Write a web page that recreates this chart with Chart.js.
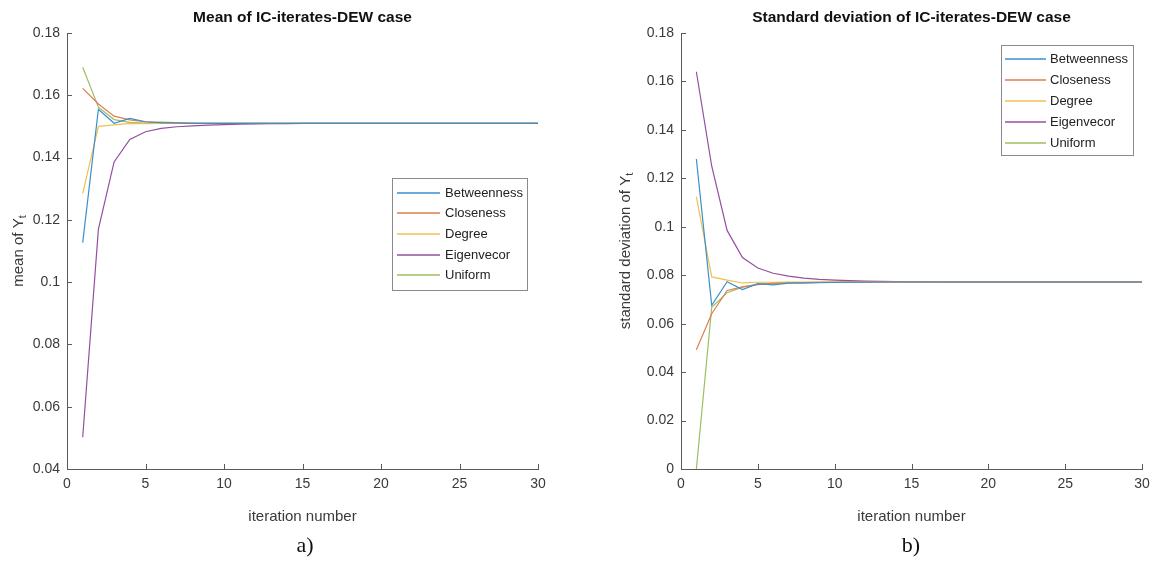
<!DOCTYPE html>
<html>
<head>
<meta charset="utf-8">
<script src="https://cdn.jsdelivr.net/npm/chart.js@4.4.1/dist/chart.umd.min.js"></script>
<style>
    body { margin: 0; background: #fff; }
    .figure { position: relative; width: 1161px; height: 562px; background: #fff; overflow: hidden; }
    .panel { position: absolute; top: 0; height: 562px; }
    .sublabel { position: absolute; top: 532px; font-family: 'Liberation Serif', 'Times New Roman', serif; font-size: 22px; color: #111; transform: translateX(-50%); }
</style>
</head>
<body>
<div class="figure">
    <div class="panel" style="left:0; width:580px;"><canvas id="meanChart" width="580" height="562"></canvas></div>
    <div class="panel" style="left:580px; width:581px;"><canvas id="stdChart" width="581" height="562"></canvas></div>
    <div class="sublabel" style="left:305px;">a)</div>
    <div class="sublabel" style="left:911px;">b)</div>
</div>
<script>
const iterations = [1, 2, 3, 4, 5, 6, 7, 8, 9, 10, 11, 12, 13, 14, 15, 16, 17, 18, 19, 20, 21, 22, 23, 24, 25, 26, 27, 28, 29, 30];
const seriesNames = ['Betweenness', 'Closeness', 'Degree', 'Eigenvecor', 'Uniform'];
const seriesColors = ['#3b8fcb', '#e07c52', '#f0c04e', '#944fa0', '#9cbf62'];

// mean of Y_t per iteration
const meanBetweenness = [0.1127, 0.1555, 0.1510, 0.1526, 0.1515, 0.1512, 0.1511, 0.1510, 0.1510, 0.1510, 0.1510, 0.1510, 0.1510, 0.1510, 0.1510, 0.1510, 0.1510, 0.1510, 0.1510, 0.1510, 0.1510, 0.1510, 0.1510, 0.1510, 0.1510, 0.1510, 0.1510, 0.1510, 0.1510, 0.1510];
const meanCloseness = [0.1622, 0.1572, 0.1533, 0.1521, 0.1515, 0.1512, 0.1511, 0.1510, 0.1510, 0.1510, 0.1510, 0.1510, 0.1510, 0.1510, 0.1510, 0.1510, 0.1510, 0.1510, 0.1510, 0.1510, 0.1510, 0.1510, 0.1510, 0.1510, 0.1510, 0.1510, 0.1510, 0.1510, 0.1510, 0.1510];
const meanDegree = [0.1285, 0.1500, 0.1505, 0.1510, 0.1509, 0.1510, 0.1510, 0.1510, 0.1510, 0.1510, 0.1510, 0.1510, 0.1510, 0.1510, 0.1510, 0.1510, 0.1510, 0.1510, 0.1510, 0.1510, 0.1510, 0.1510, 0.1510, 0.1510, 0.1510, 0.1510, 0.1510, 0.1510, 0.1510, 0.1510];
const meanEigenvecor = [0.0502, 0.1170, 0.1386, 0.1458, 0.1483, 0.1494, 0.1499, 0.1502, 0.1504, 0.1506, 0.1507, 0.1508, 0.1509, 0.1509, 0.1510, 0.1510, 0.1510, 0.1510, 0.1510, 0.1510, 0.1510, 0.1510, 0.1510, 0.1510, 0.1510, 0.1510, 0.1510, 0.1510, 0.1510, 0.1510];
const meanUniform = [0.1690, 0.1562, 0.1522, 0.1513, 0.1511, 0.1514, 0.1512, 0.1511, 0.1510, 0.1510, 0.1510, 0.1510, 0.1510, 0.1510, 0.1510, 0.1510, 0.1510, 0.1510, 0.1510, 0.1510, 0.1510, 0.1510, 0.1510, 0.1510, 0.1510, 0.1510, 0.1510, 0.1510, 0.1510, 0.1510];

// standard deviation of Y_t per iteration
const stdBetweenness = [0.1280, 0.0676, 0.0773, 0.0741, 0.0765, 0.0760, 0.0767, 0.0767, 0.0769, 0.0770, 0.0771, 0.0771, 0.0772, 0.0772, 0.0772, 0.0772, 0.0772, 0.0772, 0.0772, 0.0772, 0.0772, 0.0772, 0.0772, 0.0772, 0.0772, 0.0772, 0.0772, 0.0772, 0.0772, 0.0772];
const stdCloseness = [0.0492, 0.0641, 0.0737, 0.0752, 0.0761, 0.0766, 0.0769, 0.0770, 0.0771, 0.0771, 0.0772, 0.0772, 0.0772, 0.0772, 0.0772, 0.0772, 0.0772, 0.0772, 0.0772, 0.0772, 0.0772, 0.0772, 0.0772, 0.0772, 0.0772, 0.0772, 0.0772, 0.0772, 0.0772, 0.0772];
const stdDegree = [0.1124, 0.0793, 0.0780, 0.0768, 0.0771, 0.0771, 0.0772, 0.0772, 0.0772, 0.0772, 0.0772, 0.0772, 0.0772, 0.0772, 0.0772, 0.0772, 0.0772, 0.0772, 0.0772, 0.0772, 0.0772, 0.0772, 0.0772, 0.0772, 0.0772, 0.0772, 0.0772, 0.0772, 0.0772, 0.0772];
const stdEigenvecor = [0.1640, 0.1250, 0.0985, 0.0873, 0.0830, 0.0808, 0.0796, 0.0788, 0.0783, 0.0780, 0.0778, 0.0776, 0.0775, 0.0774, 0.0773, 0.0773, 0.0772, 0.0772, 0.0772, 0.0772, 0.0772, 0.0772, 0.0772, 0.0772, 0.0772, 0.0772, 0.0772, 0.0772, 0.0772, 0.0772];
const stdUniform = [0.0000, 0.0668, 0.0728, 0.0751, 0.0763, 0.0767, 0.0769, 0.0770, 0.0771, 0.0772, 0.0772, 0.0772, 0.0772, 0.0772, 0.0772, 0.0772, 0.0772, 0.0772, 0.0772, 0.0772, 0.0772, 0.0772, 0.0772, 0.0772, 0.0772, 0.0772, 0.0772, 0.0772, 0.0772, 0.0772];

const FONT = "'Liberation Sans', Arial, sans-serif";
const AXIS_COLOR = '#5a5a5a';
const TEXT_COLOR = '#3a3a3a';

Chart.defaults.font.family = FONT;
Chart.defaults.color = TEXT_COLOR;
Chart.defaults.animation = false;

function toDataset(name, color, values) {
    return {
        label: name,
        data: iterations.map((t, i) => ({ x: t, y: values[i] })),
        borderColor: color,
        backgroundColor: color,
        borderWidth: 1.2,
        pointRadius: 0,
        tension: 0,
        fill: false
    };
}

// matlab style: ticks pointing into the axes, y title with a subscript, boxed legend inside the axes
const matlabAxes = {
    id: 'matlabAxes',
    afterDraw(chart, args, opts) {
        const ctx = chart.ctx;
        const area = chart.chartArea;
        const xs = chart.scales.x;
        const ys = chart.scales.y;

        ctx.save();
        ctx.strokeStyle = AXIS_COLOR;
        ctx.lineWidth = 1;
        ctx.beginPath();
        xs.ticks.forEach(t => {
            const px = Math.round(xs.getPixelForValue(t.value)) + 0.5;
            ctx.moveTo(px, area.bottom);
            ctx.lineTo(px, area.bottom - 5);
        });
        ys.ticks.forEach(t => {
            const py = Math.round(ys.getPixelForValue(t.value)) + 0.5;
            ctx.moveTo(area.left, py);
            ctx.lineTo(area.left + 5, py);
        });
        ctx.stroke();

        // y axis title
        const cy = (area.top + area.bottom) / 2;
        ctx.fillStyle = TEXT_COLOR;
        ctx.font = '15px ' + FONT;
        const w1 = ctx.measureText(opts.yTitle).width;
        ctx.font = '11px ' + FONT;
        const w2 = ctx.measureText('t').width;
        ctx.translate(opts.yTitleX, cy);
        ctx.rotate(-Math.PI / 2);
        ctx.textAlign = 'left';
        ctx.textBaseline = 'middle';
        ctx.font = '15px ' + FONT;
        ctx.fillText(opts.yTitle, -(w1 + w2) / 2, 0);
        ctx.font = '11px ' + FONT;
        ctx.fillText('t', -(w1 + w2) / 2 + w1, 4);
        ctx.restore();

        // legend box
        const lg = opts.legend;
        ctx.save();
        ctx.fillStyle = '#fff';
        ctx.fillRect(lg.x, lg.y, lg.w, lg.h);
        ctx.strokeStyle = '#8a8a8a';
        ctx.lineWidth = 1;
        ctx.strokeRect(lg.x + 0.5, lg.y + 0.5, lg.w, lg.h);
        ctx.font = '13px ' + FONT;
        ctx.textBaseline = 'middle';
        ctx.textAlign = 'left';
        chart.data.datasets.forEach((ds, i) => {
            const ly = Math.round(lg.first + i * lg.step);
            ctx.strokeStyle = ds.borderColor;
            ctx.lineWidth = 1.6;
            ctx.beginPath();
            ctx.moveTo(lg.x + lg.lineStart, ly);
            ctx.lineTo(lg.x + lg.lineEnd, ly);
            ctx.stroke();
            ctx.fillStyle = '#222';
            ctx.fillText(ds.label, lg.x + lg.textX, ly);
        });
        ctx.restore();
    }
};

function tickLabel(v) {
    return String(+v.toFixed(2));
}

function makeChart(canvasId, title, series, yMin, yMax, padRight, plugOpts) {
    const ctx = document.getElementById(canvasId).getContext('2d');
    return new Chart(ctx, {
        type: 'line',
        data: {
            datasets: series.map((values, i) => toDataset(seriesNames[i], seriesColors[i], values))
        },
        options: {
            responsive: false,
            layout: { padding: { left: 0, right: padRight, top: 33, bottom: 34 } },
            plugins: {
                legend: { display: false },
                tooltip: { enabled: false },
                title: { display: false },
                matlabAxes: plugOpts
            },
            scales: {
                x: {
                    type: 'linear',
                    min: 0,
                    max: 30,
                    ticks: { stepSize: 5, padding: 7, color: TEXT_COLOR, font: { size: 14 }, maxRotation: 0 },
                    grid: { display: false, drawTicks: false },
                    border: { display: true, color: AXIS_COLOR, width: 1 },
                    title: { display: true, text: 'iteration number', color: TEXT_COLOR, font: { size: 15 }, padding: { top: 0, bottom: 2 } },
                    afterFit: scale => { scale.height = 59; }
                },
                y: {
                    min: yMin,
                    max: yMax,
                    ticks: { stepSize: 0.02, padding: 7, color: TEXT_COLOR, font: { size: 14 }, callback: tickLabel },
                    grid: { display: false, drawTicks: false },
                    border: { display: true, color: AXIS_COLOR, width: 1 },
                    afterFit: scale => { scale.width = plugOpts.axisWidth; }
                }
            }
        },
        plugins: [matlabAxes, {
            id: 'axesTitle',
            afterDraw(chart) {
                const c = chart.ctx;
                const area = chart.chartArea;
                c.save();
                c.font = 'bold 15.5px ' + FONT;
                c.fillStyle = '#111';
                c.textAlign = 'center';
                c.textBaseline = 'middle';
                c.fillText(title, (area.left + area.right) / 2, 18);
                c.restore();
            }
        }]
    });
}

makeChart('meanChart', 'Mean of IC-iterates-DEW case',
    [meanBetweenness, meanCloseness, meanDegree, meanEigenvecor, meanUniform],
    0.04, 0.18, 42,
    {
        axisWidth: 67,
        yTitle: 'mean of Y',
        yTitleX: 19,
        legend: { x: 392, y: 178, w: 135, h: 112, first: 192.5, step: 20.7, lineStart: 5, lineEnd: 48, textX: 53 }
    });

makeChart('stdChart', 'Standard deviation of IC-iterates-DEW case',
    [stdBetweenness, stdCloseness, stdDegree, stdEigenvecor, stdUniform],
    0, 0.18, 19,
    {
        axisWidth: 101,
        yTitle: 'standard deviation of Y',
        yTitleX: 46,
        legend: { x: 421, y: 45, w: 132, h: 110, first: 59, step: 21, lineStart: 4, lineEnd: 45, textX: 49 }
    });
</script>
</body>
</html>
